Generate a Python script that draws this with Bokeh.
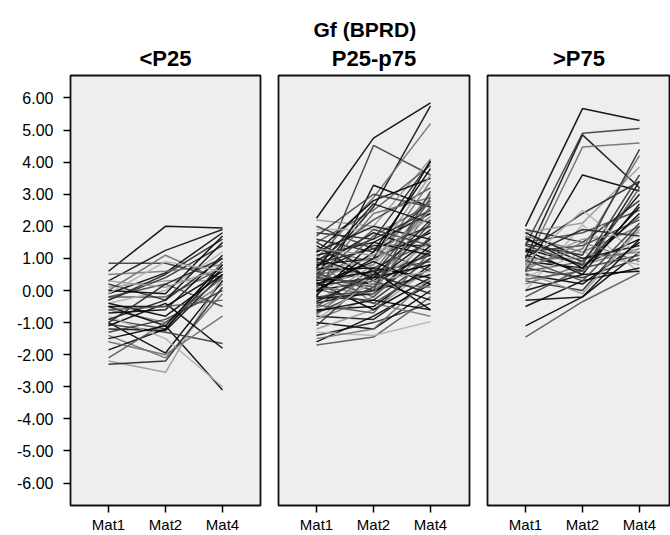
from bokeh.plotting import figure
from bokeh.layouts import row
from bokeh.models import ColumnDataSource, FixedTicker, Range1d, Title, NumeralTickFormatter
from bokeh.embed import file_html
from bokeh.resources import INLINE

# ---------------- data ----------------
categories = ["Mat1", "Mat2", "Mat4"]
panel_titles = ["<P25", "P25-p75", ">P75"]
main_title = "Gf (BPRD)"
y_ticks = [-6, -5, -4, -3, -2, -1, 0, 1, 2, 3, 4, 5, 6]

# panel 1: <P25
p1_mat1 = [0.60, 0.85, 0.30, 0.00, -0.10, 0.10, -0.30, -0.20, -0.50, -0.40, 0.20, -0.60, -0.50,
           -0.90, -1.00, -1.05, -1.20, -1.40, -1.85, -2.20, -2.30, -2.10, -1.10, -0.80, -0.30,
           0.50, -0.70, -0.20, 0.00, -1.30, -0.90, -1.60, -0.40, 0.30, -1.00, -0.60, -1.50, -0.10]
p1_mat2 = [2.00, 0.85, 1.25, 1.10, 0.55, 0.30, 0.50, -0.20, -0.50, 0.00, -0.30, -1.00, -1.10,
           -1.20, -1.95, -1.30, -1.25, -2.10, -1.20, -2.55, -2.20, -1.00, -0.40, -1.50, 0.40,
           0.60, -0.60, 0.20, -0.10, -0.90, -0.30, -2.00, -0.80, 0.10, 0.20, -0.50, -1.10, 0.90]
p1_mat4 = [1.95, 0.40, 1.90, 0.30, 1.80, 0.30, 1.60, 0.70, 0.60, 1.20, 1.00, 0.20, -3.10,
           0.90, 0.30, -1.65, 0.50, -0.10, 0.70, 0.45, 0.10, 0.40, -1.80, -3.00, 1.40,
           0.80, 1.10, -0.50, 1.70, 0.00, 1.50, -0.80, 0.50, 0.70, 1.00, -0.30, 0.80, 0.60]

# panel 2: P25-p75
p2_mat1 = [2.25, 0.30, 0.50, 1.00, -0.20, 2.20, 1.80, 1.50, 1.20, 1.90, 1.60, 1.30, 1.10,
           0.90, 0.80, 0.70, 0.60, 0.50, 0.40, 0.30, 0.20, 0.10, 0.00, -0.10, -0.20, -0.30,
           -0.40, -0.50, -0.60, -0.70, -0.80, -0.90, -1.00, -1.20, -1.40, -1.70, -1.60, -1.30,
           -1.10, 0.90, 1.40, 2.00, 0.25, 0.55, 0.75, 0.35, -0.05, -0.35, 0.15, 0.45, 0.65,
           1.05, 0.85, -0.55, -0.25, 0.05, 0.30, 1.70, 1.20, -0.75, -0.15, 0.60, 1.50, -0.45,
           0.20, -0.90, 0.95, 0.10, -0.65, 0.40, 1.00, -0.20, 0.70, -1.50, 0.00, 1.30, -0.35, 0.50]
p2_mat2 = [4.75, 4.52, 2.60, 2.90, 3.28, 2.00, 1.60, 2.50, 2.80, 1.90, 1.20, 0.90, 1.50,
           2.20, 1.00, 0.50, 1.40, 0.80, 0.20, 1.10, 0.60, 1.70, 0.30, 0.90, -0.30, 0.40,
           0.00, 0.70, -0.50, 0.10, -0.90, -0.20, -1.20, -0.60, -1.00, -1.45, -0.80, -1.40,
           0.50, -0.40, 0.30, 1.30, -0.60, 0.00, 1.80, 2.40, 1.20, 0.80, 0.40, -0.20, 0.70,
           0.20, 1.30, 0.20, -0.10, -0.40, 0.60, 3.00, 2.00, 0.60, 1.50, 1.00, 0.60, -0.70,
           0.90, 0.30, 1.60, -0.10, -0.30, 1.90, 0.40, 0.00, 2.70, -1.20, 1.00, 1.10, 0.50, 0.10]
p2_mat4 = [5.85, 3.60, 5.75, 5.20, 2.60, 4.10, 4.00, 3.90, 3.50, 2.20, 2.80, 3.00, 2.40,
           3.20, 1.80, 2.60, 1.40, 3.40, 1.20, 2.00, 0.90, 2.70, 1.60, 2.30, 1.00, 1.90,
           0.50, 1.50, 0.80, 2.10, 0.30, 1.30, 0.00, 0.70, -0.40, -0.20, 0.20, -0.97,
           1.10, -0.80, -0.30, 0.60, 0.40, 1.00, 1.20, 2.90, 3.80, 2.50, 2.20, 1.70, 0.40,
           1.50, 2.00, 0.10, 1.40, 0.70, -0.60, 2.60, 1.60, 2.80, 1.10, 3.60, 1.90, 1.20,
           0.20, 0.60, 2.50, 2.60, -0.60, 1.40, 0.80, 3.10, 2.10, 0.40, 4.05, 2.30, -0.10, 2.90]

# panel 3: >P75
p3_mat1 = [2.00, 1.40, 1.00, 0.80, 0.60, 1.80, 1.20, -1.45, -1.10, 0.00, 1.90, 1.70, 1.60,
           1.50, 1.30, 1.20, 1.10, 1.00, 0.90, 0.80, 0.70, 0.60, 0.50, 0.40, 0.30, 0.20,
           0.00, -0.20, -0.50, 1.40, 1.80, 0.75, 1.25, 0.55, 1.05, 0.35, 1.65, 0.85, 1.45,
           0.65, -0.30, 0.95]
p3_mat2 = [5.67, 4.90, 4.85, 4.47, 3.60, 2.10, 2.40, -0.35, -0.20, 2.05, 1.50, 1.20, 0.90,
           1.80, 0.80, 1.40, 0.60, 1.00, 0.70, 1.60, 0.40, 0.90, 0.20, 1.20, 0.00, 0.80,
           0.50, 0.70, 0.30, 0.80, 1.00, 1.30, 0.50, -0.10, 1.90, 0.60, 0.70, 2.50, 1.10,
           1.50, -0.20, 0.30]
p3_mat4 = [5.30, 5.05, 3.20, 4.60, 3.10, 3.85, 3.40, 0.55, 1.20, 0.55, 2.80, 2.00, 3.00,
           2.50, 1.60, 2.20, 3.40, 1.20, 2.60, 1.80, 1.00, 2.30, 1.50, 0.80, 2.00, 1.30,
           2.70, 1.10, 0.70, 3.60, 1.40, 4.20, 0.60, 1.90, 1.70, 3.20, 2.40, 1.10, 4.40,
           0.90, 1.60, 2.10]

# ---------------- styles ----------------
greys = ["#000000", "#3a3a3a", "#111111", "#6e6e6e", "#000000", "#999999", "#222222",
         "#555555", "#000000", "#b0b0b0", "#2c2c2c", "#777777", "#050505", "#444444"]
FONT = "Liberation Sans"
H = 535
TOP = 75
BOTTOM = 29


def style_title(t, size):
    t.align = "center"
    t.text_font = FONT
    t.text_font_size = size
    t.text_font_style = "bold"
    t.text_color = "black"


def make_panel(title, m1, m2, m4, width, left, right, show_y):
    n = len(m1)
    xpos = [categories.index(c) for c in categories]
    xs = [xpos for _ in range(n)]
    ys = [[m1[i], m2[i], m4[i]] for i in range(n)]
    cols = [greys[i % len(greys)] for i in range(n)]
    src = ColumnDataSource(dict(xs=xs, ys=ys, color=cols))

    frame_w = width - left - right
    unit = 57.0
    x0 = -38.0 / unit
    x1 = x0 + frame_w / unit

    p = figure(width=width, height=H, x_range=Range1d(x0, x1), y_range=Range1d(-6.7, 6.7),
               output_backend="svg", toolbar_location=None,
               min_border_left=left, min_border_right=right,
               min_border_top=TOP, min_border_bottom=BOTTOM)
    p.multi_line("xs", "ys", source=src, line_color="color", line_width=1.5, line_alpha=0.9)

    if title is not None:
        p.title.text = title
        style_title(p.title, "22px")

    p.background_fill_color = "#eeeeee"
    p.border_fill_color = "white"
    p.outline_line_color = "#111111"
    p.outline_line_width = 1.8
    p.outline_line_alpha = 1.0
    p.xgrid.visible = False
    p.ygrid.visible = False

    xa = p.xaxis[0]
    xa.ticker = FixedTicker(ticks=xpos)
    xa.major_label_overrides = {xpos[i]: categories[i] for i in range(len(categories))}
    xa.axis_line_color = None
    xa.major_tick_line_color = "black"
    xa.major_tick_line_width = 1.5
    xa.major_tick_out = 7
    xa.major_tick_in = 0
    xa.minor_tick_line_color = None
    xa.major_label_standoff = 3
    xa.major_label_text_font = FONT
    xa.major_label_text_font_size = "15px"
    xa.major_label_text_color = "black"

    ya = p.yaxis[0]
    if show_y:
        ya.ticker = FixedTicker(ticks=y_ticks)
        ya.formatter = NumeralTickFormatter(format="0.00")
        ya.axis_line_color = None
        ya.major_tick_line_color = "black"
        ya.major_tick_line_width = 1.5
        ya.major_tick_out = 7
        ya.major_tick_in = 0
        ya.minor_tick_line_color = None
        ya.major_label_standoff = 10
        ya.major_label_text_font = FONT
        ya.major_label_text_font_size = "16px"
        ya.major_label_text_color = "black"
    else:
        ya.visible = False
    return p


f1 = make_panel(panel_titles[0], p1_mat1, p1_mat2, p1_mat4, 269, 70, 9, True)
f2 = make_panel(main_title, p2_mat1, p2_mat2, p2_mat4, 209, 9, 9, False)
f3 = make_panel(panel_titles[2], p3_mat1, p3_mat2, p3_mat4, 192, 9, 0, False)

f2.title.standoff = -4
f2.title.align = "left"
f2.title.offset = 35
f2.title.text_font_size = "21px"
sub = Title(text=panel_titles[1])
style_title(sub, "22px")
f2.add_layout(sub, "above")

layout = row(f1, f2, f3, spacing=0)
open("out.html", "w").write(file_html(layout, INLINE))
